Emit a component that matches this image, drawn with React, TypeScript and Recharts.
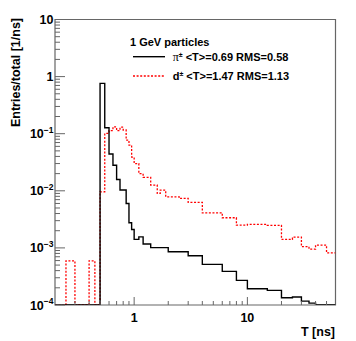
import React from "react";
import { LineChart, Line, XAxis, YAxis, ReferenceArea } from "recharts";

// ---- data (bin edges in ns, bin contents in 1/ns) ----
const FLOOR = 1e-4;

const PI_EDGES = [0.2, 0.5, 0.55, 0.6, 0.65, 0.7, 0.75, 0.85, 0.9, 0.95, 1.0, 1.1, 1.2, 1.4, 2, 3, 4, 6, 8, 10, 15, 20, 25, 30, 35, 40, 60];
const PI_VALUES = [FLOOR, 0.76, 0.127, 0.044, 0.028, 0.0158, 0.0103, 0.006, 0.00275, 0.0021, 0.00141, 0.00156, 0.00117, 0.00101, 0.000855, 0.000728, 0.000514, 0.000388, 0.00027, 0.000192, 0.00018, 0.000134, 0.000138, 0.000117, 0.000108, FLOOR];

const D_EDGES = [0.2, 0.25, 0.3, 0.4, 0.45, 0.5, 0.55, 0.6, 0.65, 0.7, 0.75, 0.8, 0.85, 0.9, 0.95, 1.0, 1.1, 1.2, 1.4, 1.6, 1.7, 1.9, 2.5, 3, 4, 6, 8, 10, 15, 20, 25, 30, 35, 40, 50, 60];
const D_VALUES = [FLOOR, 0.000594, FLOOR, 0.000594, FLOOR, 0.0096, 0.101, 0.113, 0.132, 0.113, 0.13, 0.116, 0.077, 0.063, 0.039, 0.03, 0.02, 0.0172, 0.0126, 0.009, 0.0103, 0.00785, 0.00736, 0.00626, 0.00412, 0.00337, 0.0025, 0.00258, 0.00249, 0.00141, 0.00155, 0.00105, 0.00095, 0.00112, 0.00082];

const X_DOMAIN = [0.2, 60];
const Y_DOMAIN = [1e-4, 10];
const X_TICKS = [0.3, 0.4, 0.5, 0.6, 0.7, 0.8, 0.9, 1, 2, 3, 4, 5, 6, 7, 8, 9, 10, 20, 30, 40, 50];
const X_LABELED = [1, 10];
const Y_MAJOR = [1e-4, 1e-3, 1e-2, 1e-1, 1, 10];
const Y_MAJOR_BASE = ["10", "10", "10", "10", "1", "10"];
const Y_MAJOR_EXP = ["−4", "−3", "−2", "−1", "", ""];
const Y_MINOR_MANT = [2, 3, 4, 5, 6, 7, 8, 9];

const TITLE = "1 GeV particles";
const LEG_PI_REST = " <T>=0.69 RMS=0.58";
const LEG_D_REST = " <T>=1.47 RMS=1.13";
const X_TITLE = "T [ns]";
const Y_TITLE = "Entries/total [1/ns]";

// ---- helpers ----
const toSteps = (edges: number[], values: number[]) =>
  edges.map((e, i) => ({ t: e, v: values[Math.min(i, values.length - 1)] }));

const piSteps = toSteps(PI_EDGES, PI_VALUES);
const dSteps = toSteps(D_EDGES, D_VALUES);

const Y_TICKS: number[] = [];
Y_MAJOR.forEach((m, i) => {
  Y_TICKS.push(m);
  if (i < Y_MAJOR.length - 1) Y_MINOR_MANT.forEach((k) => Y_TICKS.push(k * m));
});

const FONT = "'Liberation Sans', Arial, Helvetica, sans-serif";
const AXIS = "#666";
const AX_FS = 12.5;

const renderXTick = (props: any) => {
  const { x, y, payload } = props;
  const v = payload.value;
  const major = X_LABELED.indexOf(v) >= 0;
  return (
    <g>
      <line x1={x} x2={x} y1={y} y2={y - (major ? 8 : 4)} stroke={AXIS} strokeWidth={1} />
      {major && (
        <text x={x} y={y + 17} textAnchor="middle" fontFamily={FONT} fontWeight="bold" fontSize={AX_FS} fill="#000">
          {String(v)}
        </text>
      )}
    </g>
  );
};

const renderYTick = (props: any) => {
  const { x, y, payload } = props;
  const v = payload.value;
  const idx = Y_MAJOR.findIndex((m) => Math.abs(Math.log10(m) - Math.log10(v)) < 1e-6);
  const major = idx >= 0;
  return (
    <g>
      <line x1={x} x2={x + (major ? 10 : 5)} y1={y} y2={y} stroke={AXIS} strokeWidth={1} />
      {major && (
        <text x={x - 1.5} y={y + 4.5} textAnchor="end" fontFamily={FONT} fontWeight="bold" fontSize={AX_FS} fill="#000">
          {Y_MAJOR_BASE[idx]}
          {Y_MAJOR_EXP[idx] && (
            <tspan dy={-5.5} fontSize={8.5}>
              {Y_MAJOR_EXP[idx]}
            </tspan>
          )}
        </text>
      )}
    </g>
  );
};

export default function App() {
  return (
    <LineChart width={348} height={333} margin={{ top: 11.5, right: 20.5, left: 0, bottom: 0 }}>
      <XAxis
        dataKey="t"
        type="number"
        scale="log"
        domain={X_DOMAIN}
        ticks={X_TICKS}
        interval={0}
        allowDataOverflow
        height={36}
        tickLine={false}
        tickSize={0}
        tickMargin={0}
        axisLine={false}
        tick={renderXTick}
      />
      <YAxis
        type="number"
        scale="log"
        domain={Y_DOMAIN}
        ticks={Y_TICKS}
        interval={0}
        allowDataOverflow
        width={47}
        tickLine={false}
        tickSize={0}
        tickMargin={0}
        axisLine={false}
        tick={renderYTick}
      />
      <ReferenceArea x1={X_DOMAIN[0]} x2={X_DOMAIN[1]} y1={Y_DOMAIN[0]} y2={Y_DOMAIN[1]} fill="none" fillOpacity={0} stroke={AXIS} strokeWidth={1.2} />
      <Line
        data={dSteps}
        dataKey="v"
        type="stepAfter"
        stroke="#ff0000"
        strokeWidth={1.3}
        strokeDasharray="2 1.6"
        dot={false}
        activeDot={false}
        isAnimationActive={false}
      />
      <Line
        data={piSteps}
        dataKey="v"
        type="stepAfter"
        stroke="#000"
        strokeWidth={1.4}
        dot={false}
        activeDot={false}
        isAnimationActive={false}
      />
      <g fontFamily={FONT} fontWeight="bold" fontSize={11} fill="#000">
        <text x={122} y={37.7}>{TITLE}</text>
        <line x1={125} x2={157} y1={48.7} y2={48.7} stroke="#000" strokeWidth={1.4} />
        <text x={164.7} y={53}>
          <tspan fontFamily="'Liberation Serif', serif" fontWeight="normal" fontSize={12}>π</tspan>
          <tspan dy={-4.5} fontSize={7}>±</tspan>
          <tspan dy={4.5}>{LEG_PI_REST}</tspan>
        </text>
        <line x1={125} x2={157} y1={68} y2={68} stroke="#ff0000" strokeWidth={1.3} strokeDasharray="2 1.6" />
        <text x={164.7} y={72}>
          <tspan>d</tspan>
          <tspan dy={-4.5} fontSize={7}>±</tspan>
          <tspan dy={4.5}>{LEG_D_REST}</tspan>
        </text>
        <text x={327} y={328} textAnchor="end" fontSize={AX_FS}>{X_TITLE}</text>
        <text x={12} y={10} textAnchor="end" fontSize={AX_FS} transform="rotate(-90, 12, 10)">{Y_TITLE}</text>
      </g>
    </LineChart>
  );
}
